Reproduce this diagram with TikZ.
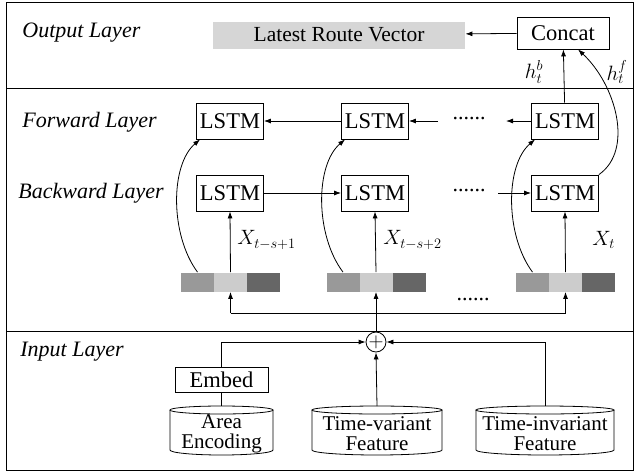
\documentclass[tikz,border=0pt]{standalone}
\usepackage{fontspec}
\setmainfont{Liberation Serif}
\usetikzlibrary{arrows.meta}
\newcommand{\drawcyl}[4]{%
  \draw (#1-#4,#2) -- (#1-#4,#3) arc[start angle=180,end angle=360,x radius=#4pt,y radius=5pt] -- (#1+#4,#2);
  \draw (#1,#2) ellipse[x radius=#4pt,y radius=4pt];}
\tikzset{
  box/.style={draw,minimum width=67pt,minimum height=36pt,inner sep=0pt,font=\fontsize{22.5}{24}\selectfont},
  lay/.style={anchor=west,inner sep=0pt,font=\fontsize{22}{26}\selectfont\itshape},
  arr/.style={-{Latex[length=7pt,width=5pt]}},
  seg/.style={minimum width=33pt,minimum height=19pt,inner sep=0pt},
  lbl/.style={inner sep=0pt,font=\fontsize{22}{24}\selectfont},
  cyltext/.style={align=center,inner sep=0pt,font=\fontsize{21}{20}\selectfont},
  dots/.style={inner sep=0pt,font=\fontsize{22}{24}\selectfont}
}
\begin{document}
\begin{tikzpicture}[x=1pt,y=1pt,line width=0.8pt]
\useasboundingbox (0,0) rectangle (635,-472);
\draw (6,-2) rectangle (633,-470);
\draw (6,-88) -- (633,-88);
\draw (6,-331) -- (633,-331);
% layer labels
\node[lay] (lo) at (22,-33) {Output Layer};
\node[lay] (lf) at (22,-122) {Forward Layer};
\node[lay] (lb) at (18,-193) {Backward Layer};
\node[lay] (li) at (20,-352) {Input Layer};
% output
\node[fill=black!16,minimum width=252pt,minimum height=27pt,inner sep=0pt,font=\fontsize{21.5}{24}\selectfont] (lrv) at (339,-35) {Latest Route Vector};
\node[box,minimum width=92pt,minimum height=32pt] (cc) at (563,-33) {Concat};
\draw[arr] (cc) -- (lrv);
% LSTMs
\node[box] (f1) at (230,-121) {LSTM};
\node[box] (f2) at (375,-121) {LSTM};
\node[box] (f3) at (565,-121) {LSTM};
\node[box] (b1) at (230,-193) {LSTM};
\node[box] (b2) at (375,-193) {LSTM};
\node[box] (b3) at (565,-193) {LSTM};
\draw[arr] (f2) -- (f1);
\coordinate (fd1) at (438,-121);
\draw[arr] (fd1) -- (f2);
\node[dots] (fdots) at (469,-119) {......};
\coordinate (fd2) at (506,-121);
\draw[arr] (f3) -- (fd2);
\draw[arr] (b1) -- (b2);
\node[dots] (bdots) at (469,-191) {......};
\coordinate (bd) at (498,-193);
\draw[arr] (bd) -- (b3);
\draw[arr] (f3) -- (cc);
\draw[arr] (b3.north east) .. controls (634,-150) and (616,-85) .. ([xshift=15pt]cc.south);
\node[lbl] (hb) at (534,-72) {$h_t^b$};
\node[lbl] (hf) at (617,-72) {$h_t^f$};
% strips
\foreach \i/\cx in {1/230.5,2/376,3/565.5}{
  \node[seg,fill=black!40] (s\i a) at (\cx-33,-282) {};
  \node[seg,fill=black!20] (s\i b) at (\cx,-282) {};
  \node[seg,fill=black!60] (s\i c) at (\cx+33,-282) {};
  \draw[arr] (s\i b.north) -- (b\i.south);
}
\draw[arr] (s1a.north) .. controls (170,-235) and (170,-165) .. ([xshift=4pt]f1.south west);
\draw[arr] (s2a.north) .. controls (315,-235) and (315,-165) .. ([xshift=4pt]f2.south west);
\draw[arr] (s3a.north) .. controls (505,-235) and (505,-165) .. ([xshift=4pt]f3.south west);
\node[lbl,anchor=west] (x1) at (237,-240) {$X_{t-s+1}$};
\node[lbl,anchor=west] (x2) at (383,-240) {$X_{t-s+2}$};
\node[lbl,anchor=west] (x3) at (592,-240) {$X_t$};
\node[dots] (sdots) at (473,-300) {......};
% distribution
\node[circle,draw,minimum size=20pt,inner sep=0pt,font=\fontsize{20}{20}\selectfont] (plus) at (376,-342) {$+$};
\coordinate (dl) at (230.5,-313);
\coordinate (dr) at (565.5,-313);
\draw (dl) -- (dr);
\draw[arr] (dl) -- (s1b.south);
\draw[arr] (dr) -- (s3b.south);
\draw[arr] (plus.north) -- (s2b.south);
% input
\node[box,minimum width=93pt,minimum height=25pt] (emb) at (221.5,-380) {Embed};
\coordinate (lc) at (221.5,-342);
\draw (emb.north) -- (lc);
\draw[arr] (lc) -- (plus.west);
\drawcyl{221.5}{-410}{-450}{51.5}
\drawcyl{377}{-410}{-450}{65}
\drawcyl{545}{-410}{-450}{69}
\node[cyltext] (ae) at (221.5,-434) {Area\\Encoding};
\node[cyltext] (tv) at (377,-434) {Time-variant\\Feature};
\node[cyltext] (ti) at (545,-434) {Time-invariant\\Feature};
\coordinate (aet) at (221.5,-406);
\coordinate (tvt) at (377,-406);
\coordinate (tit) at (545,-406);
\coordinate (rc) at (545,-342);
\draw (emb.south) -- (aet);
\draw[arr] (tvt) -- (plus.south);
\draw (tit) -- (rc);
\draw[arr] (rc) -- (plus.east);
\end{tikzpicture}
\end{document}
